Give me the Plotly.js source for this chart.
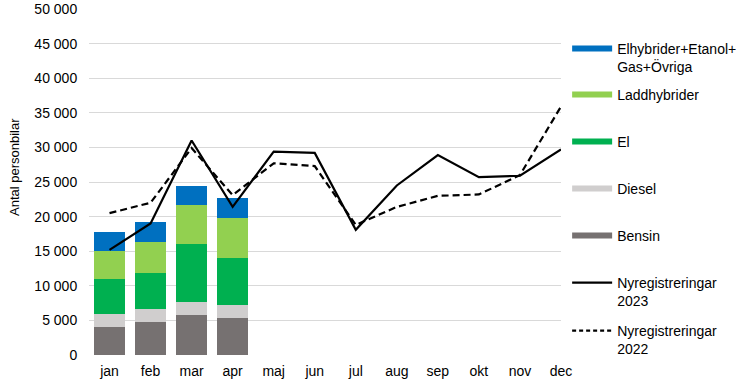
<!DOCTYPE html>
<html><head><meta charset="utf-8">
<script src="https://cdn.plot.ly/plotly-3.0.1.min.js"></script>
<style>html,body{margin:0;padding:0;background:#fff}#chart{width:746px;height:387px}</style>
</head><body><div id="chart"></div>
<script>
const months = ['jan','feb','mar','apr','maj','jun','jul','aug','sep','okt','nov','dec'];
const barMonths = ['jan','feb','mar','apr'];
const bensin = [4000, 4800, 5800, 5400];
const diesel = [1900, 1800, 1900, 1800];
const el = [5100, 5250, 8350, 6850];
const laddhybrider = [4100, 4500, 5600, 5800];
const ovriga = [2700, 2850, 2800, 2850];
const nyreg2023 = [15200, 19000, 31000, 21400, 29400, 29200, 18100, 24500, 28900, 25700, 25900, 29700];
const nyreg2022 = [20500, 22000, 29900, 23100, 27700, 27300, 18800, 21400, 23000, 23200, 26000, 35900];
const yTitle = 'Antal personbilar';

const FONT = 'Liberation Sans, Arial, sans-serif';
const cBlue = '#0070C0', cLgreen = '#92D050', cGreen = '#00B050', cLgray = '#D0CECE', cDgray = '#767171';

function bar(name, y, color) {
  return {type:'bar', x: barMonths, y: y, name: name, marker:{color: color}, showlegend:false, hoverinfo:'y'};
}
function legendLine(name, color, width, dash, lg) {
  return {type:'scatter', mode:'lines', x:[null], y:[null], name:name, legend: lg,
          line:{color:color, width:width, dash:dash}, showlegend:true, hoverinfo:'skip'};
}
const traces = [
  bar('Bensin', bensin, cDgray),
  bar('Diesel', diesel, cLgray),
  bar('El', el, cGreen),
  bar('Laddhybrider', laddhybrider, cLgreen),
  bar('Elhybrider+Etanol+<br>Gas+Övriga', ovriga, cBlue),
  {type:'scatter', mode:'lines', x: months, y: nyreg2023, name:'Nyregistreringar 2023', line:{color:'#000', width:2.2}, showlegend:false},
  {type:'scatter', mode:'lines', x: months, y: nyreg2022, name:'Nyregistreringar 2022', line:{color:'#000', width:2.2, dash:'7px,4px'}, showlegend:false},
  legendLine('Elhybrider+Etanol+<br>Gas+Övriga', cBlue, 6, 'solid', 'legend'),
  legendLine('Laddhybrider', cLgreen, 6, 'solid', 'legend2'),
  legendLine('El', cGreen, 6, 'solid', 'legend3'),
  legendLine('Diesel', cLgray, 6, 'solid', 'legend4'),
  legendLine('Bensin', cDgray, 6, 'solid', 'legend5'),
  legendLine('Nyregistreringar<br>2023', '#000', 2.2, 'solid', 'legend6'),
  legendLine('Nyregistreringar<br>2022', '#000', 2.2, '4px,3px', 'legend7')
];

const plotTop = 9, plotBottom = 355;
function lgY(px) { return (plotBottom - px) / (plotBottom - plotTop); }
function lg(centerPx) {
  return {x: 1.013, xanchor:'left', y: lgY(centerPx - 16), yanchor:'top', valign:'top',
          bgcolor:'rgba(0,0,0,0)', font:{family:FONT, size:14, color:'#000'}, itemwidth:40,
          tracegroupgap:0, itemclick:false, itemdoubleclick:false};
}

const layout = {
  width: 746, height: 387,
  margin: {l: 89, r: 185, t: 9, b: 32, autoexpand:false},
  paper_bgcolor:'#fff', plot_bgcolor:'#fff',
  barmode:'stack', bargap:0.24,
  separators: ', ',
  font:{family:FONT, size:14, color:'#000'},
  xaxis:{type:'category', categoryarray: months, categoryorder:'array', showgrid:false, zeroline:false,
         showline:false, ticks:'outside', ticklen:3, tickcolor:'rgba(0,0,0,0)', tickfont:{family:FONT, size:14, color:'#000'}, fixedrange:true},
  yaxis:{range:[0, 50000], dtick:5000, tickformat:',d', showgrid:true, gridcolor:'#D9D9D9', gridwidth:1,
         zeroline:false, showline:false, tickfont:{family:FONT, size:14, color:'#000'}, ticks:'outside', ticklen:8, tickcolor:'rgba(0,0,0,0)',
         fixedrange:true},
  annotations:[{text: yTitle, textangle:-90, xref:'paper', yref:'paper', x:0, y:lgY(167), xanchor:'center', yanchor:'middle',
                xshift:-75, showarrow:false, font:{family:FONT, size:13, color:'#000'}}],
  showlegend:true,
  legend: lg(49), legend2: lg(95), legend3: lg(142), legend4: lg(189), legend5: lg(236), legend6: lg(283), legend7: lg(331)
};
Plotly.newPlot('chart', traces, layout, {displayModeBar:false, staticPlot:true});
</script></body></html>
